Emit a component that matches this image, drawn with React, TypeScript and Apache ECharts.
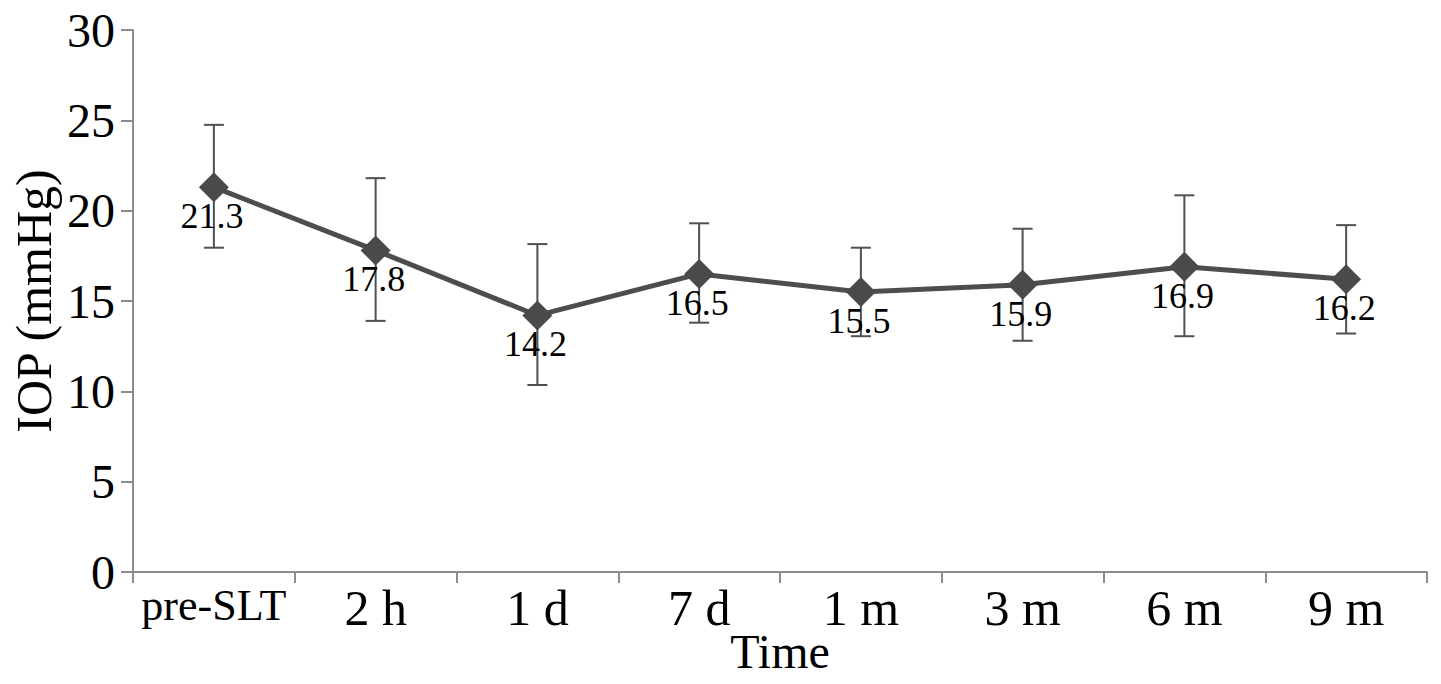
import React, { useEffect, useRef } from "react";
import * as echarts from "echarts";

const categories = ["pre-SLT", "2 h", "1 d", "7 d", "1 m", "3 m", "6 m", "9 m"];
const meanIOP = [21.3, 17.8, 14.2, 16.5, 15.5, 15.9, 16.9, 16.2];
const upperIOP = [24.75, 21.8, 18.15, 19.3, 17.95, 19.0, 20.85, 19.2];
const lowerIOP = [17.95, 13.9, 10.35, 13.8, 13.05, 12.8, 13.05, 13.2];
const yTicks = { min: 0, max: 30, interval: 5 };

const FONT = "'Liberation Serif', 'Times New Roman', serif";

export default function App() {
  const ref = useRef<HTMLDivElement>(null);
  useEffect(() => {
    if (!ref.current) return;
    const chart = echarts.init(ref.current, undefined, { renderer: "svg" });
    const errData = categories.map((_, i) => [i, lowerIOP[i], upperIOP[i]]);
    chart.setOption({
      animation: false,
      backgroundColor: "#ffffff",
      grid: { left: 133, right: 14, top: 30, bottom: 112, outerBoundsMode: "none", containLabel: false },
      xAxis: {
        type: "category",
        data: categories,
        boundaryGap: true,
        name: "Time",
        nameLocation: "middle",
        nameGap: 55,
        nameMoveOverlap: false,
        nameTextStyle: { fontFamily: FONT, fontSize: 48, color: "#000", lineHeight: 48 },
        axisLine: { show: true, lineStyle: { color: "#8c8c8c", width: 2 } },
        axisTick: { show: true, interval: 0, length: 11, lineStyle: { color: "#8c8c8c", width: 2 } },
        axisLabel: {
          interval: 0,
          fontFamily: FONT,
          fontSize: 50,
          color: "#000",
          margin: 11,
          formatter: (v: string) => (v === "pre-SLT" ? "{s|" + v + "}" : v),
          rich: { s: { fontFamily: FONT, fontSize: 44, color: "#000" } },
        },
        splitLine: { show: false },
      },
      yAxis: {
        type: "value",
        min: yTicks.min,
        max: yTicks.max,
        interval: yTicks.interval,
        name: "IOP (mmHg)",
        nameLocation: "middle",
        nameGap: 74,
        nameMoveOverlap: false,
        nameTextStyle: { fontFamily: FONT, fontSize: 50, color: "#000" },
        axisLine: { show: true, lineStyle: { color: "#8c8c8c", width: 2 } },
        axisTick: { show: true, length: 12, lineStyle: { color: "#8c8c8c", width: 2 } },
        axisLabel: { fontFamily: FONT, fontSize: 48, color: "#000", margin: 18 },
        splitLine: { show: false },
      },
      series: [
        {
          type: "custom",
          z: 1,
          data: errData,
          encode: { x: 0, y: [1, 2] },
          renderItem: (params: any, api: any) => {
            const i = api.value(0);
            const lo = api.coord([i, api.value(1)]);
            const hi = api.coord([i, api.value(2)]);
            const hw = 10;
            const style = { stroke: "#505050", lineWidth: 2 };
            return {
              type: "group",
              children: [
                { type: "line", shape: { x1: lo[0], y1: lo[1], x2: hi[0], y2: hi[1] }, style },
                { type: "line", shape: { x1: lo[0] - hw, y1: lo[1], x2: lo[0] + hw, y2: lo[1] }, style },
                { type: "line", shape: { x1: hi[0] - hw, y1: hi[1], x2: hi[0] + hw, y2: hi[1] }, style },
              ],
            };
          },
        },
        {
          type: "line",
          z: 3,
          data: meanIOP,
          symbol: "diamond",
          symbolSize: [30, 30],
          lineStyle: { color: "#4d4d4d", width: 5 },
          itemStyle: { color: "#4a4a4a" },
          label: {
            show: true,
            position: "inside",
            offset: [-2, 29],
            fontFamily: FONT,
            fontSize: 36,
            color: "#000",
            formatter: (p: any) => p.value.toFixed(1),
          },
        },
      ],
    });
    return () => chart.dispose();
  }, []);
  return (
    <div
      ref={ref}
      style={{ position: "fixed", left: 0, top: 0, width: 1441, height: 684, background: "#fff" }}
    />
  );
}
